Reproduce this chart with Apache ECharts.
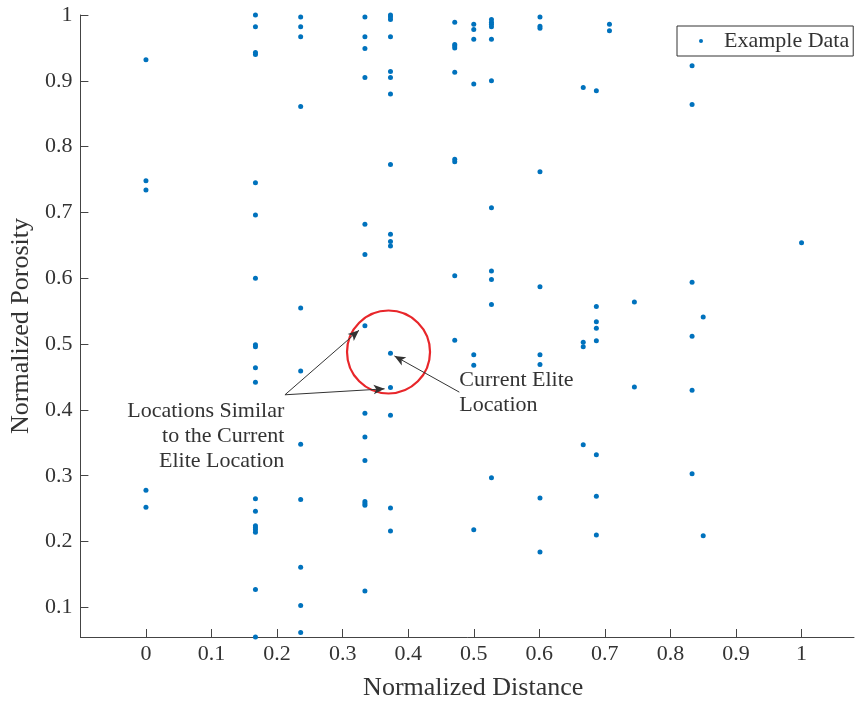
<!DOCTYPE html>
<html>
<head>
<meta charset="utf-8">
<script src="https://cdn.jsdelivr.net/npm/echarts@6/dist/echarts.min.js"></script>
<style>
html, body { margin: 0; padding: 0; background: #fff; }
#main { width: 857px; height: 706px; }
</style>
</head>
<body>
<div id="main"></div>
<script>
// distance levels (x) and the porosity values sitting on each of them (y)
var distanceLevels = [0, 0.167, 0.236, 0.334, 0.373, 0.471, 0.5, 0.527, 0.601, 0.667, 0.687, 0.707, 0.745, 0.833, 0.85, 1];
var porosityAt = [
    [0.932, 0.748, 0.734, 0.278, 0.252],
    [1.0, 0.982, 0.943, 0.94, 0.745, 0.696, 0.6, 0.499, 0.496, 0.464, 0.442, 0.265, 0.246, 0.224, 0.221, 0.218, 0.214, 0.127, 0.055],
    [0.997, 0.982, 0.967, 0.861, 0.555, 0.459, 0.348, 0.264, 0.161, 0.103, 0.062],
    [0.997, 0.967, 0.949, 0.905, 0.682, 0.636, 0.528, 0.395, 0.359, 0.323, 0.261, 0.258, 0.255, 0.125],
    [1.0, 0.997, 0.993, 0.967, 0.914, 0.905, 0.88, 0.773, 0.667, 0.656, 0.649, 0.486, 0.434, 0.392, 0.251, 0.216],
    [0.989, 0.955, 0.953, 0.95, 0.913, 0.781, 0.777, 0.604, 0.506],
    [0.986, 0.978, 0.963, 0.895, 0.484, 0.468, 0.218],
    [0.993, 0.989, 0.986, 0.982, 0.963, 0.9, 0.707, 0.611, 0.598, 0.56, 0.297],
    [0.997, 0.983, 0.98, 0.762, 0.587, 0.484, 0.469, 0.266, 0.184],
    [0.89, 0.503, 0.496, 0.347],
    [0.885, 0.557, 0.534, 0.524, 0.505, 0.332, 0.269, 0.21],
    [0.986, 0.976],
    [0.564, 0.435],
    [0.923, 0.864, 0.594, 0.512, 0.43, 0.303],
    [0.541, 0.209],
    [0.654]
];
var xTicks = [0, 0.1, 0.2, 0.3, 0.4, 0.5, 0.6, 0.7, 0.8, 0.9, 1];
var yTicks = [0.1, 0.2, 0.3, 0.4, 0.5, 0.6, 0.7, 0.8, 0.9, 1];

// annotations, in data units
var eliteRing = [0.37, 0.488];
var arrowLines = [
    [[0.212, 0.423], [0.325, 0.521]],
    [[0.212, 0.423], [0.364, 0.432]],
    [[0.478, 0.427], [0.379, 0.482]]
];
var similarNote = ['Locations Similar', 'to the Current', 'Elite Location'];
var similarNoteAt = [0.211, 0.36];
var eliteNote = ['Current Elite', 'Location'];
var eliteNoteAt = [0.478, 0.426];

var points = [];
distanceLevels.forEach(function (d, i) {
    porosityAt[i].forEach(function (p) { points.push([d, p]); });
});

var font = 'Liberation Serif, Times New Roman, serif';
var ink = '#333';
var chart = echarts.init(document.getElementById('main'));

var fmt = function (v) { return String(+(+v).toFixed(1)); };

chart.setOption({
    animation: false,
    textStyle: { fontFamily: font },
    grid: { left: 77, top: 15, right: 3, bottom: 69 },
    legend: {
        data: ['Example Data'],
        left: 677,
        top: 26,
        padding: [4, 4, 4, 22],
        itemWidth: 4,
        itemHeight: 4,
        icon: 'circle',
        borderColor: '#333',
        borderWidth: 1,
        borderRadius: 0,
        selectedMode: false,
        textStyle: { fontFamily: font, fontSize: 22, color: ink, padding: [0, 0, 0, 16], lineHeight: 22 }
    },
    xAxis: {
        type: 'value',
        min: -0.1,
        max: 1.08,
        name: 'Normalized Distance',
        nameLocation: 'middle',
        nameGap: 38,
        nameTextStyle: { fontFamily: font, fontSize: 26, color: ink, padding: [0, 0, 0, 12] },
        axisLine: { onZero: false, lineStyle: { color: '#444', width: 1 } },
        axisTick: { show: true, inside: true, length: 8, customValues: xTicks, lineStyle: { color: '#444' } },
        axisLabel: { customValues: xTicks, formatter: fmt, fontFamily: font, fontSize: 22, color: ink, margin: 6 },
        splitLine: { show: false }
    },
    yAxis: {
        type: 'value',
        min: 0.055,
        max: 1,
        name: 'Normalized Porosity',
        nameLocation: 'middle',
        nameGap: 42,
        nameTextStyle: { fontFamily: font, fontSize: 26, color: ink },
        axisLine: { show: true, onZero: false, lineStyle: { color: '#444', width: 1 } },
        axisTick: { show: true, inside: true, length: 8, customValues: yTicks, lineStyle: { color: '#444' } },
        axisLabel: { customValues: yTicks, formatter: fmt, fontFamily: font, fontSize: 22, color: ink, margin: 8 },
        splitLine: { show: false }
    },
    series: [
        {
            name: 'Example Data',
            type: 'scatter',
            data: points,
            symbolSize: 5,
            clip: false,
            itemStyle: { color: '#0072bd', opacity: 1 },
            silent: true
        },
        {
            name: 'ring',
            type: 'scatter',
            data: [eliteRing],
            symbolSize: 83,
            clip: false,
            silent: true,
            itemStyle: { color: 'rgba(0,0,0,0)', borderColor: '#e8262a', borderWidth: 2.2, opacity: 1 },
            markLine: {
                silent: true,
                symbol: ['none', 'arrow'],
                symbolSize: [7, 11],
                label: { show: false },
                lineStyle: { color: '#333', width: 1, type: 'solid' },
                data: arrowLines.map(function (l) {
                    return [{ coord: l[0] }, { coord: l[1] }];
                })
            }
        }
    ]
});

var p1 = chart.convertToPixel({ gridIndex: 0 }, similarNoteAt);
var p2 = chart.convertToPixel({ gridIndex: 0 }, eliteNoteAt);
chart.setOption({
    graphic: [
        {
            type: 'text', x: p1[0], y: p1[1], silent: true,
            style: { text: similarNote.join('\n'), font: '22px ' + font, fill: ink, align: 'right', verticalAlign: 'middle', lineHeight: 25 }
        },
        {
            type: 'text', x: p2[0], y: p2[1], silent: true,
            style: { text: eliteNote.join('\n'), font: '22px ' + font, fill: ink, align: 'left', verticalAlign: 'middle', lineHeight: 25 }
        }
    ]
});
</script>
</body>
</html>
